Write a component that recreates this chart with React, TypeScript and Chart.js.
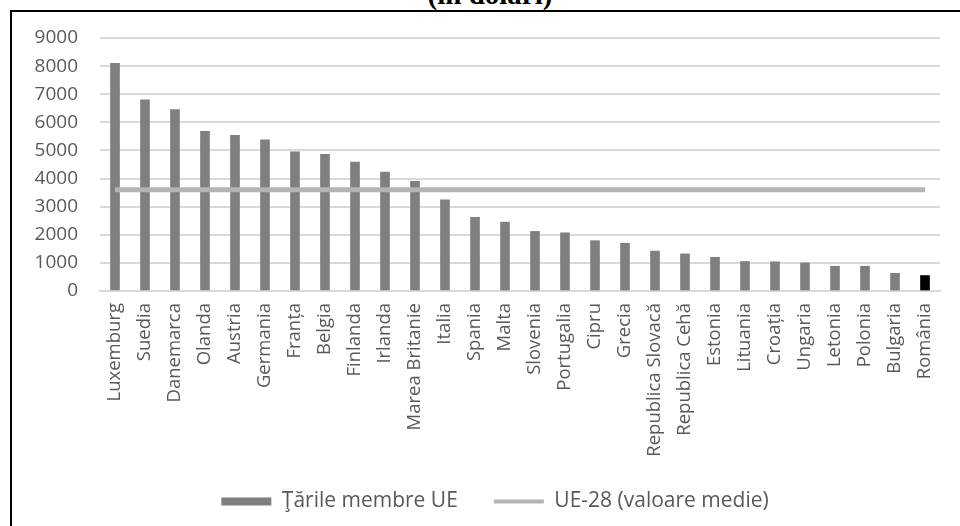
import React, { useEffect, useRef } from "react";
import { Chart, registerables } from "chart.js";

Chart.register(...registerables);

const countries = [
  "Luxemburg", "Suedia", "Danemarca", "Olanda", "Austria", "Germania", "Franța",
  "Belgia", "Finlanda", "Irlanda", "Marea Britanie", "Italia", "Spania", "Malta",
  "Slovenia", "Portugalia", "Cipru", "Grecia", "Republica Slovacă", "Republica Cehă",
  "Estonia", "Lituania", "Croația", "Ungaria", "Letonia", "Polonia", "Bulgaria", "România",
];

const memberValues = [
  8100, 6800, 6450, 5680, 5540, 5380, 4950,
  4860, 4590, 4230, 3900, 3240, 2620, 2450,
  2120, 2070, 1790, 1700, 1420, 1320,
  1200, 1050, 1040, 1000, 880, 880, 630, 550,
];

const euAverage = [
  3600, 3600, 3600, 3600, 3600, 3600, 3600,
  3600, 3600, 3600, 3600, 3600, 3600, 3600,
  3600, 3600, 3600, 3600, 3600, 3600,
  3600, 3600, 3600, 3600, 3600, 3600, 3600, 3600,
];

const barColors = [
  "#7f7f7f", "#7f7f7f", "#7f7f7f", "#7f7f7f", "#7f7f7f", "#7f7f7f", "#7f7f7f",
  "#7f7f7f", "#7f7f7f", "#7f7f7f", "#7f7f7f", "#7f7f7f", "#7f7f7f", "#7f7f7f",
  "#7f7f7f", "#7f7f7f", "#7f7f7f", "#7f7f7f", "#7f7f7f", "#7f7f7f",
  "#7f7f7f", "#7f7f7f", "#7f7f7f", "#7f7f7f", "#7f7f7f", "#7f7f7f", "#7f7f7f", "#000000",
];

const seriesNames = ["Ţările membre UE", "UE-28 (valoare medie)"];
const titleText = "(în dolari)";

const textColor = "#595959";
const fontFamily = "'Open Sans', 'DejaVu Sans', sans-serif";

export default function App() {
  const canvasRef = useRef<HTMLCanvasElement | null>(null);

  useEffect(() => {
    if (!canvasRef.current) return;
    const chart = new Chart(canvasRef.current, {
      type: "bar",
      data: {
        labels: countries,
        datasets: [
          {
            type: "bar",
            label: seriesNames[0],
            data: memberValues,
            backgroundColor: barColors,
            barThickness: 9,
            yAxisID: "y",
            order: 2,
          },
          {
            type: "line",
            label: seriesNames[1],
            data: euAverage,
            borderColor: "#b4b4b4",
            backgroundColor: "#b4b4b4",
            borderWidth: 5,
            pointRadius: 0,
            tension: 0,
            yAxisID: "y",
            order: 1,
          },
        ] as any,
      },
      options: {
        animation: false,
        responsive: false,
        maintainAspectRatio: false,
        layout: { padding: { top: 26, left: 0, right: 0, bottom: 4 } },
        plugins: {
          tooltip: { enabled: false },
          legend: {
            position: "bottom",
            labels: {
              usePointStyle: true,
              pointStyleWidth: 50,
              boxHeight: 8,
              padding: 36,
              color: textColor,
              font: { family: fontFamily, size: 21 },
              generateLabels: () => [
                {
                  text: seriesNames[0],
                  fillStyle: "#7f7f7f",
                  strokeStyle: "#7f7f7f",
                  lineWidth: 0,
                  pointStyle: "rect",
                  hidden: false,
                  datasetIndex: 0,
                  fontColor: textColor,
                },
                {
                  text: seriesNames[1],
                  fillStyle: "#b4b4b4",
                  strokeStyle: "#b4b4b4",
                  lineWidth: 4,
                  pointStyle: "line",
                  hidden: false,
                  datasetIndex: 1,
                  fontColor: textColor,
                },
              ],
            },
          },
        },
        scales: {
          x: {
            grid: { display: false, drawTicks: false },
            border: { display: true, color: "#d9d9d9", width: 2 },
            ticks: {
              autoSkip: false,
              minRotation: 90,
              maxRotation: 90,
              padding: 12,
              color: textColor,
              font: { family: fontFamily, size: 18.5 },
            },
            afterFit: (axis: any) => {
              axis.height = 164;
            },
          },
          y: {
            min: 0,
            max: 9000,
            grid: { color: "#d9d9d9", lineWidth: 2, drawTicks: false },
            border: { display: false },
            ticks: {
              stepSize: 1000,
              padding: 22,
              color: textColor,
              font: { family: fontFamily, size: 19 },
              callback: (v: any) => String(v),
            },
            afterFit: (axis: any) => {
              axis.width = 88;
              axis.paddingTop = 0;
              axis.paddingBottom = 0;
            },
          },
          yRight: {
            position: "right",
            min: 0,
            max: 9000,
            grid: { display: false, drawTicks: false },
            border: { display: false },
            ticks: { display: false },
            afterFit: (axis: any) => {
              axis.width = 38;
              axis.paddingTop = 0;
              axis.paddingBottom = 0;
            },
          },
        },
      } as any,
    });
    return () => chart.destroy();
  }, []);

  return (
    <div style={{ position: "fixed", left: 0, top: 0, width: 960, height: 526, overflow: "hidden", background: "#fff" }}>
      <div
        style={{
          position: "absolute",
          left: 0,
          width: 960,
          top: -20,
          textAlign: "center",
          fontFamily: "'Liberation Serif', 'Times New Roman', serif",
          fontWeight: "bold",
          fontSize: 29,
          lineHeight: 1,
          color: "#000",
          paddingLeft: 20,
          boxSizing: "border-box",
        }}
      >
        {titleText}
      </div>
      <div
        style={{
          position: "absolute",
          left: 10,
          top: 10,
          width: 1000,
          height: 530,
          borderLeft: "2px solid #000",
          borderTop: "2px solid #000",
          background: "#fff",
        }}
      >
        <canvas ref={canvasRef} width={966} height={514} style={{ display: "block", width: 966, height: 514 }} />
      </div>
    </div>
  );
}
